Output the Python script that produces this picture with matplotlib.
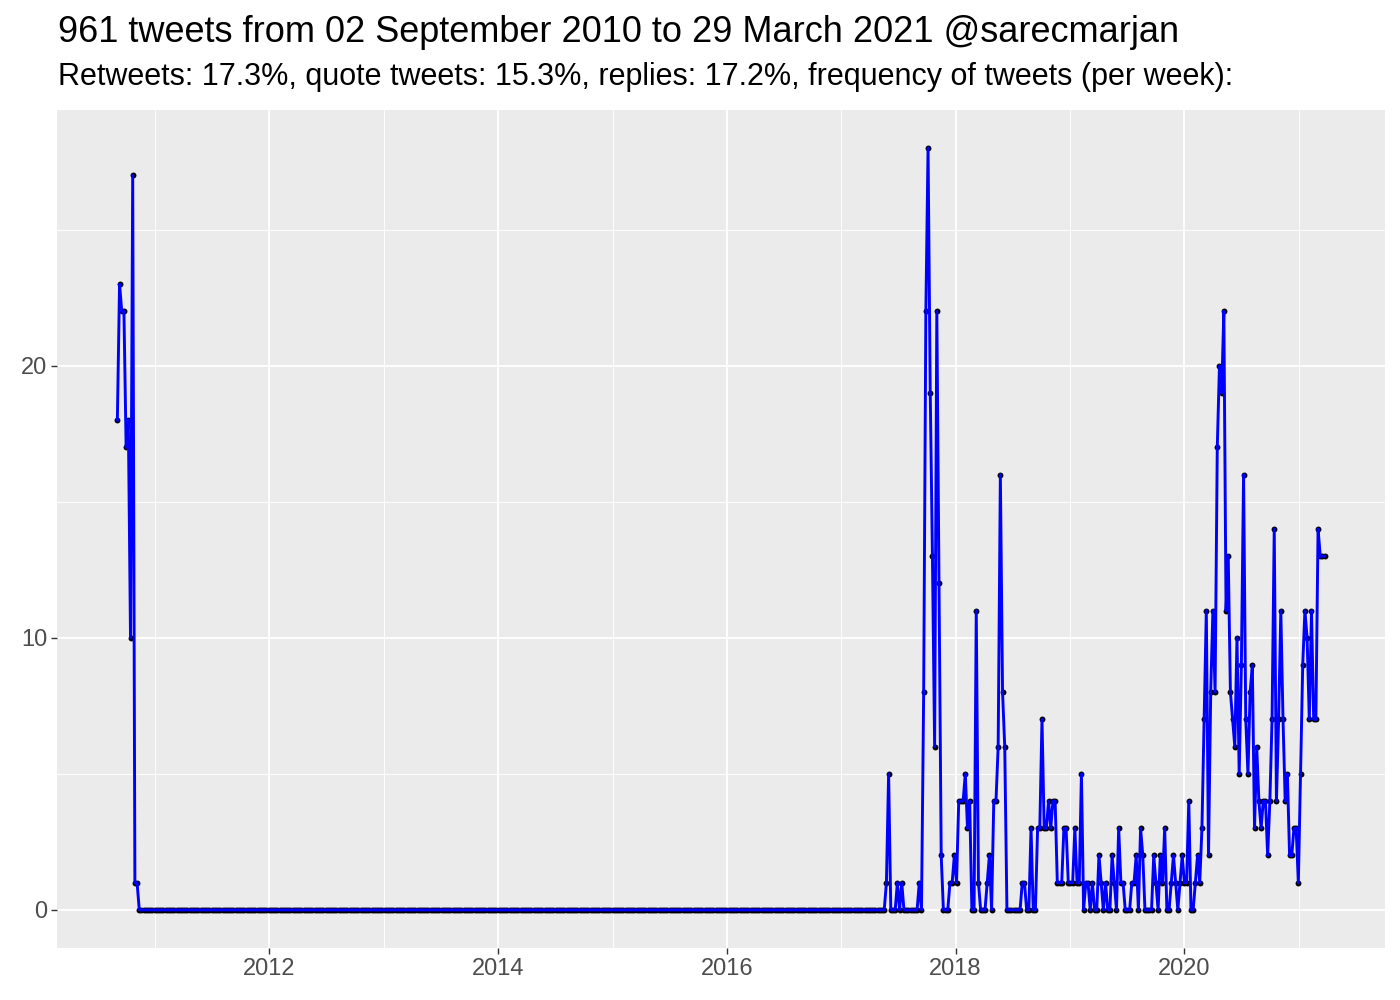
import datetime
import matplotlib
matplotlib.use("Agg")
import matplotlib.pyplot as plt
import matplotlib.dates as mdates
from matplotlib.ticker import FixedLocator

plt.rcParams['font.family'] = ['Liberation Sans', 'DejaVu Sans']

# ---- data (weekly tweet counts) ----
first_week = datetime.date(2010, 9, 2)

counts_2010 = [18, 23, 22, 22, 17, 18, 10, 27, 1, 1]
silent_weeks = 341  # weeks with zero tweets between 2010 and 2017

counts_2017_2021 = [
    1, 5, 0, 0, 0, 1, 0, 1, 0, 0, 0, 0, 0, 0, 0, 1, 0,
    8, 22, 28, 19, 13, 6, 22, 12, 2, 0, 0, 0, 1, 1, 2, 1, 4, 4, 4, 5, 3, 4, 0, 0,
    11, 1, 0, 0, 0, 1, 2, 0, 4, 4, 6, 16, 8, 6, 0, 0, 0, 0, 0, 0, 0,
    1, 1, 0, 0, 3, 0, 0, 3, 3, 7, 3, 3, 4, 3, 4, 4, 1, 1, 1, 3, 3, 1, 1, 1, 3, 1, 1, 5,
    0, 1, 1, 0, 1, 0, 0, 2, 1, 0, 1, 0, 0, 2, 1, 0, 3, 1, 1, 0, 0, 0, 1, 1, 2, 0,
    3, 2, 0, 0, 0, 0, 2, 1, 0, 2, 1, 3, 0, 0, 1, 2, 1, 0, 1, 2, 1, 1, 4, 0, 0,
    1, 2, 1, 3, 7, 11, 2, 8, 11, 8, 17, 20, 19, 22, 11, 13, 8, 7,
    6, 10, 5, 9, 16, 7, 5, 8, 9, 3, 6, 4, 3, 4, 4, 2, 4, 7, 14, 4, 7, 11, 7, 4, 5,
    2, 2, 3, 3, 1, 5, 9, 11, 10, 7, 11, 7, 7, 14, 13, 13, 13,
]

title_text = "961 tweets from 02 September 2010 to 29 March 2021 @sarecmarjan"
subtitle_text = ("Retweets: 17.3%, quote tweets: 15.3%, replies: 17.2%, "
                 "frequency of tweets (per week):")
y_ticks = [0, 10, 20]
y_minor = [5, 15, 25]
x_major_years = [2012, 2014, 2016, 2018, 2020]
x_minor_years = [2011, 2013, 2015, 2017, 2019, 2021]

# ---- build series ----
counts = counts_2010 + [0] * silent_weeks + counts_2017_2021
dates = [first_week + datetime.timedelta(weeks=i) for i in range(len(counts))]
xnum = mdates.date2num(dates)

# ---- figure ----
fig = plt.figure(figsize=(14, 10), dpi=100)
ax = fig.add_axes([57 / 1400, 1 - 948 / 1000, (1385 - 57) / 1400, (948 - 110) / 1000])
ax.set_facecolor('#EBEBEB')
for s in ax.spines.values():
    s.set_visible(False)

ax.scatter(xnum, counts, s=18, color='black', zorder=2, linewidths=0)
ax.plot(xnum, counts, color='#0000FF', lw=2.1, zorder=3)

span = xnum[-1] - xnum[0]
ax.set_xlim(xnum[0] - 0.05 * span, xnum[-1] + 0.05 * span)
ymax = max(counts)
ax.set_ylim(-0.05 * ymax, ymax * 1.05)

ax.xaxis.set_major_locator(FixedLocator(
    [mdates.date2num(datetime.date(y, 1, 1)) for y in x_major_years]))
ax.xaxis.set_minor_locator(FixedLocator(
    [mdates.date2num(datetime.date(y, 1, 1)) for y in x_minor_years]))
ax.set_xticklabels([str(y) for y in x_major_years])
ax.yaxis.set_major_locator(FixedLocator(y_ticks))
ax.yaxis.set_minor_locator(FixedLocator(y_minor))
ax.set_yticklabels([str(v) for v in y_ticks])

ax.grid(which='major', color='white', lw=1.3)
ax.grid(which='minor', color='white', lw=0.65)
ax.set_axisbelow(True)
ax.tick_params(which='major', length=4, width=1, color='#333333',
               labelcolor='#4D4D4D', labelsize=17, pad=3)
ax.tick_params(which='minor', length=0)

fig.text(58 / 1400, 1 - 32 / 1000, title_text, fontsize=26, color='black',
         ha='left', va='center')
fig.text(58 / 1400, 1 - 77 / 1000, subtitle_text, fontsize=22, color='black',
         ha='left', va='center')

fig.savefig('out.png', dpi=100)
